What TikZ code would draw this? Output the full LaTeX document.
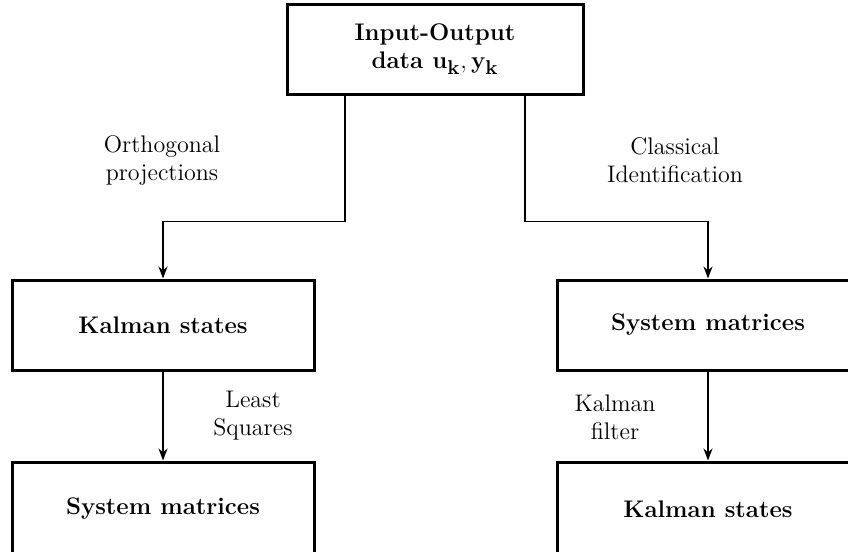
\documentclass[tikz,border=0pt]{standalone}
\usepackage{amsmath}
\usepackage{tikz}
\usetikzlibrary{positioning,arrows.meta}

\begin{document}
\begin{tikzpicture}[x=0.5pt,y=-0.5pt,
  box/.style={draw,line width=1.5pt,minimum width=151pt,minimum height=45pt,inner sep=0pt,align=center,font=\large\bfseries},
  lbl/.style={align=center,font=\large,inner sep=0pt},
  conn/.style={-{Stealth[length=6pt,width=4.5pt]},line width=0.9pt}]
  \useasboundingbox (0,0) rectangle (848,552);

  \node[box,minimum width=148pt,minimum height=45pt] (io) at (435,49) {Input-Output\\data $\mathbf{u}_{\text{\normalsize\bfseries k}},\mathbf{y}_{\text{\normalsize\bfseries k}}$};

  \node[box] (ksl) at (163,325) {Kalman states};
  \node[box] (smr) at (708,325) {System matrices};

  \node[box,minimum height=47pt] (sml) at (163,509) {System matrices};
  \node[box,minimum height=47pt] (ksr) at (708,509) {Kalman states};

  \draw[conn] ([xshift=-45pt]io.south) -- ++(0,126) -| (ksl.north);
  \draw[conn] ([xshift=45pt]io.south) -- ++(0,126) -| (smr.north);
  \draw[conn] (ksl) -- (sml);
  \draw[conn] (smr) -- (ksr);

  \node[lbl] (op) at (162,160) {Orthogonal\\projections};
  \node[lbl] (ci) at (675,160) {Classical\\Identification};
  \node[lbl] (ls) at (253,416) {Least\\Squares};
  \node[lbl] (kf) at (615,417) {Kalman\\filter};
\end{tikzpicture}
\end{document}
